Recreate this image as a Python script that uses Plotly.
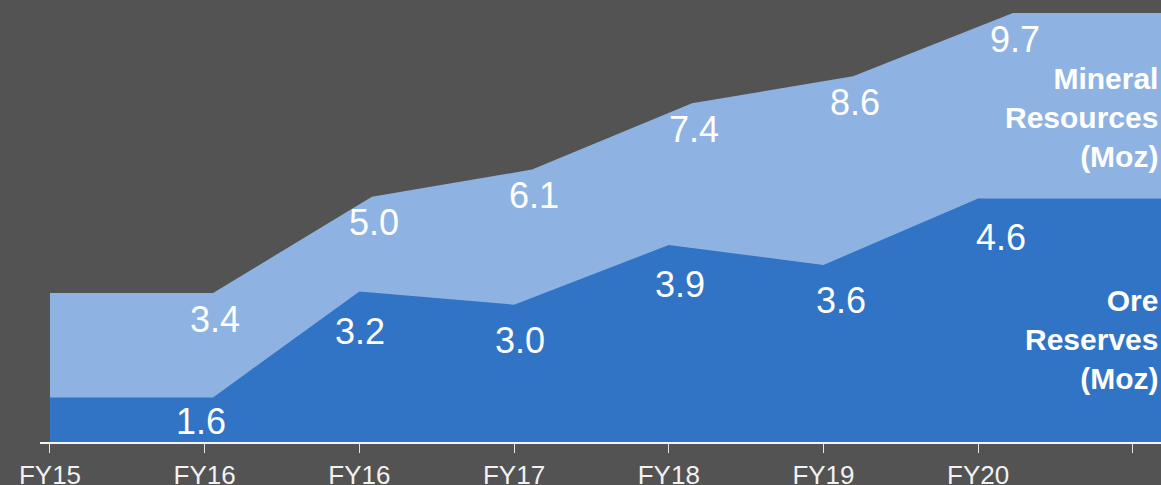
import plotly.graph_objects as go

# ---- data ----
periods = ["FY15", "FY16", "FY16", "FY17", "FY18", "FY19", "FY20", ""]
tick_pos = [0, 1, 2, 3, 4, 5, 6, 7]

ore_reserves = [1.6, 1.6, 3.2, 3.0, 3.9, 3.6, 4.6, 4.6]          # Moz
mineral_resources = [3.4, 3.4, 5.0, 6.1, 7.4, 8.6, 9.7, 9.7]     # Moz
ore_x = [0, 1.054, 2.0, 3.0, 4.0, 5.0, 6.0, 7.2]
mineral_x = [0, 1.054, 2.081, 3.116, 4.150, 5.191, 6.225, 7.2]

# mineral layer is drawn stacked on top of ore reserves
stack_total = [o + m for o, m in zip(ore_reserves, mineral_resources)]

BG = "#535353"
LIGHT = "#8EB3E2"
DARK = "#3174C5"
FONT = "Arial, Liberation Sans, sans-serif"

fig = go.Figure()
fig.add_trace(go.Scatter(
    x=mineral_x, y=stack_total, mode="lines", line=dict(width=0, color=LIGHT),
    fill="tozeroy", fillcolor=LIGHT, yaxis="y", hoverinfo="skip", showlegend=False))
fig.add_trace(go.Scatter(
    x=ore_x, y=ore_reserves, mode="lines", line=dict(width=0, color=DARK),
    fill="tozeroy", fillcolor=DARK, yaxis="y2", hoverinfo="skip", showlegend=False))

annotations = []
# mineral resource labels (shown for FY16 .. FY20)
for i in range(1, 7):
    annotations.append(dict(
        x=mineral_x[i], y=stack_total[i], xref="x", yref="y",
        text=f"{mineral_resources[i]:.1f}", showarrow=False,
        xanchor="center", yanchor="middle", xshift=2, yshift=-26,
        font=dict(family=FONT, size=36, color="white")))
# ore reserve labels
ore_label_dy = [-24, -40, -36, -39, -36, -39]
for k, i in enumerate(range(1, 7)):
    annotations.append(dict(
        x=mineral_x[i], y=ore_reserves[i], xref="x", yref="y2",
        text=f"{ore_reserves[i]:.1f}", showarrow=False,
        xanchor="center", yanchor="middle", xshift=-12, yshift=ore_label_dy[k],
        font=dict(family=FONT, size=36, color="white")))

annotations.append(dict(
    x=1, y=0.735, xref="paper", yref="paper", xanchor="right", yanchor="middle",
    xshift=-1, align="right", showarrow=False,
    text="<b>Mineral<br>Resources<br>(Moz)</b>",
    font=dict(family=FONT, size=30, color="white")))
annotations.append(dict(
    x=1, y=0.231, xref="paper", yref="paper", xanchor="right", yanchor="middle",
    xshift=-1, align="right", showarrow=False,
    text="<b>Ore<br>Reserves<br>(Moz)</b>",
    font=dict(family=FONT, size=30, color="white")))

fig.update_layout(
    width=1161, height=485,
    margin=dict(l=40, r=0, t=0, b=43, autoexpand=False),
    paper_bgcolor=BG, plot_bgcolor=BG,
    showlegend=False,
    xaxis=dict(
        range=[-0.0646, 7.182], tickvals=tick_pos, ticktext=periods,
        showgrid=False, zeroline=False, automargin=False,
        showline=True, linecolor="#f4f4f4", linewidth=2,
        ticks="outside", ticklen=9, tickwidth=1, tickcolor="#e6e6e6",
        ticklabelstandoff=0,
        tickfont=dict(family=FONT, size=26, color="#f2f2f2")),
    yaxis=dict(range=[0.05, 14.734], visible=False, showgrid=False, zeroline=False,
               automargin=False),
    yaxis2=dict(range=[0.929, 7.596], overlaying="y", visible=False,
                showgrid=False, zeroline=False, automargin=False),
    annotations=annotations,
)

fig.write_html(
    "out.html",
    config={"displayModeBar": False},
    post_script="document.body.style.margin='0';document.body.style.padding='0';"
                "document.body.style.overflow='hidden';"
                "document.body.style.background='" + BG + "';",
)
